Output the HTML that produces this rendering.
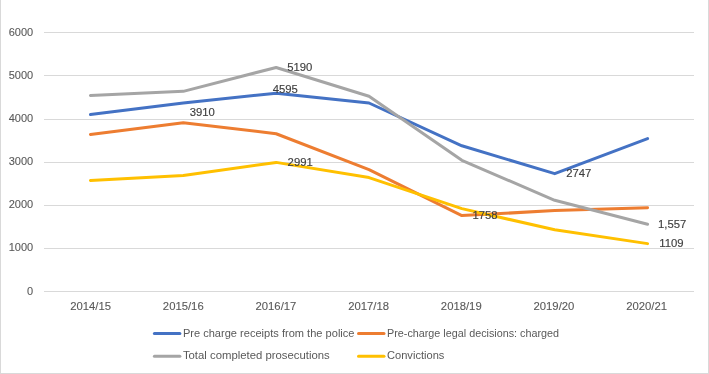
<!DOCTYPE html><html><head><meta charset="utf-8"><style>html,body{margin:0;padding:0;background:#fff;}svg{display:block;}text{font-family:"Liberation Sans",sans-serif;}</style></head><body>
<svg width="709" height="374" viewBox="0 0 709 374" style="will-change:transform">
<rect x="0" y="0" width="709" height="374" fill="#fff"/>
<rect x="0" y="0" width="1" height="374" fill="#D9D9D9"/>
<rect x="708" y="0" width="1" height="374" fill="#D9D9D9"/>
<rect x="0" y="373" width="709" height="1" fill="#D9D9D9"/>
<rect x="44" y="32" width="650" height="1" fill="#D9D9D9"/>
<rect x="44" y="75" width="650" height="1" fill="#D9D9D9"/>
<rect x="44" y="119" width="650" height="1" fill="#D9D9D9"/>
<rect x="44" y="162" width="650" height="1" fill="#D9D9D9"/>
<rect x="44" y="205" width="650" height="1" fill="#D9D9D9"/>
<rect x="44" y="248" width="650" height="1" fill="#D9D9D9"/>
<rect x="44" y="291" width="650" height="1" fill="#D9D9D9"/>
<text x="33.2" y="35.6" font-size="11" fill="#595959" stroke="#595959" stroke-width="0.1" text-anchor="end">6000</text>
<text x="33.2" y="78.6" font-size="11" fill="#595959" stroke="#595959" stroke-width="0.1" text-anchor="end">5000</text>
<text x="33.2" y="121.6" font-size="11" fill="#595959" stroke="#595959" stroke-width="0.1" text-anchor="end">4000</text>
<text x="33.2" y="164.6" font-size="11" fill="#595959" stroke="#595959" stroke-width="0.1" text-anchor="end">3000</text>
<text x="33.2" y="207.6" font-size="11" fill="#595959" stroke="#595959" stroke-width="0.1" text-anchor="end">2000</text>
<text x="33.2" y="250.6" font-size="11" fill="#595959" stroke="#595959" stroke-width="0.1" text-anchor="end">1000</text>
<text x="33.2" y="294.6" font-size="11" fill="#595959" stroke="#595959" stroke-width="0.1" text-anchor="end">0</text>
<text x="90.60" y="310" font-size="11.3" fill="#595959" stroke="#595959" stroke-width="0.1" text-anchor="middle">2014/15</text>
<text x="183.27" y="310" font-size="11.3" fill="#595959" stroke="#595959" stroke-width="0.1" text-anchor="middle">2015/16</text>
<text x="275.94" y="310" font-size="11.3" fill="#595959" stroke="#595959" stroke-width="0.1" text-anchor="middle">2016/17</text>
<text x="368.61" y="310" font-size="11.3" fill="#595959" stroke="#595959" stroke-width="0.1" text-anchor="middle">2017/18</text>
<text x="461.28" y="310" font-size="11.3" fill="#595959" stroke="#595959" stroke-width="0.1" text-anchor="middle">2018/19</text>
<text x="553.95" y="310" font-size="11.3" fill="#595959" stroke="#595959" stroke-width="0.1" text-anchor="middle">2019/20</text>
<text x="646.62" y="310" font-size="11.3" fill="#595959" stroke="#595959" stroke-width="0.1" text-anchor="middle">2020/21</text>
<polyline points="90.43,114.60 183.29,102.90 276.14,93.15 369.00,102.99 461.86,145.81 554.71,173.66 647.57,138.60" fill="none" stroke="#4472C4" stroke-width="3" stroke-linejoin="round" stroke-linecap="round"/>
<polyline points="90.43,134.42 183.29,122.72 276.14,133.73 369.00,169.60 461.86,215.61 554.71,210.61 647.57,207.80" fill="none" stroke="#ED7D31" stroke-width="3" stroke-linejoin="round" stroke-linecap="round"/>
<polyline points="90.43,95.48 183.29,91.34 276.14,67.47 369.00,96.21 461.86,160.27 554.71,200.29 647.57,224.29" fill="none" stroke="#A5A5A5" stroke-width="3" stroke-linejoin="round" stroke-linecap="round"/>
<polyline points="90.43,180.39 183.29,175.60 276.14,162.39 369.00,177.58 461.86,208.62 554.71,229.81 647.57,243.63" fill="none" stroke="#FFC000" stroke-width="3" stroke-linejoin="round" stroke-linecap="round"/>
<text x="189.7" y="116.1" font-size="11.3" fill="#404040" stroke="#404040" stroke-width="0.15">3910</text>
<text x="287.2" y="70.9" font-size="11.3" fill="#404040" stroke="#404040" stroke-width="0.15">5190</text>
<text x="272.7" y="93.0" font-size="11.3" fill="#404040" stroke="#404040" stroke-width="0.15">4595</text>
<text x="287.6" y="165.9" font-size="11.3" fill="#404040" stroke="#404040" stroke-width="0.15">2991</text>
<text x="472.4" y="218.8" font-size="11.3" fill="#404040" stroke="#404040" stroke-width="0.15">1758</text>
<text x="566.2" y="176.9" font-size="11.3" fill="#404040" stroke="#404040" stroke-width="0.15">2747</text>
<text x="658.0" y="228.4" font-size="11.3" fill="#404040" stroke="#404040" stroke-width="0.15">1,557</text>
<text x="659.2" y="247.1" font-size="11.3" fill="#404040" stroke="#404040" stroke-width="0.15">1109</text>
<line x1="154.4" y1="333.6" x2="179.9" y2="333.6" stroke="#4472C4" stroke-width="3" stroke-linecap="round"/>
<text x="182.9" y="336.90000000000003" font-size="11.3" fill="#595959" textLength="171.6" lengthAdjust="spacingAndGlyphs">Pre charge receipts from the police</text>
<line x1="358.5" y1="333.6" x2="384.0" y2="333.6" stroke="#ED7D31" stroke-width="3" stroke-linecap="round"/>
<text x="387.0" y="336.90000000000003" font-size="11.3" fill="#595959" textLength="172.1" lengthAdjust="spacingAndGlyphs">Pre-charge legal decisions: charged</text>
<line x1="154.4" y1="356.3" x2="179.9" y2="356.3" stroke="#A5A5A5" stroke-width="3" stroke-linecap="round"/>
<text x="182.9" y="358.90000000000003" font-size="11.3" fill="#595959" textLength="146.9" lengthAdjust="spacingAndGlyphs">Total completed prosecutions</text>
<line x1="358.5" y1="356.3" x2="384.0" y2="356.3" stroke="#FFC000" stroke-width="3" stroke-linecap="round"/>
<text x="387.0" y="358.90000000000003" font-size="11.3" fill="#595959" textLength="57.4" lengthAdjust="spacingAndGlyphs">Convictions</text>
</svg></body></html>
